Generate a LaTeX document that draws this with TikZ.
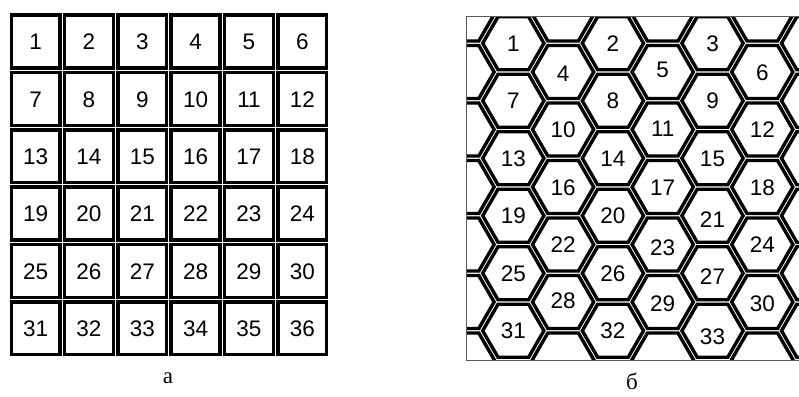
\documentclass[tikz,border=0pt]{standalone}
\usepackage{fontspec}
\setmainfont{Liberation Serif}
\newfontfamily\arialfont{Liberation Sans}
\begin{document}
\begin{tikzpicture}[x=1pt,y=-1pt,
  cellbox/.style={draw=black,line width=3.4pt,line join=miter},
  hexline/.style={draw=black,line width=3.4pt,line join=miter},
  frameline/.style={draw=black!65,line width=1pt},
  num/.style={font=\arialfont\fontsize{22.5}{22.5}\selectfont,inner sep=0pt,
    text height=16.1pt,text depth=0pt},
  caption/.style={font=\fontsize{23}{23}\selectfont,inner sep=0pt}]
\useasboundingbox (0,0) rectangle (799,396);
% ---- panel a: square cells
\foreach \r in {0,...,5}{
  \foreach \c in {0,...,5}{
    \pgfmathsetmacro\xa{9+53.33*\c+2.2}
    \pgfmathsetmacro\xb{9+53.33*(\c+1)-2.2}
    \pgfmathsetmacro\ya{13+57.33*\r+2.2}
    \pgfmathsetmacro\yb{13+57.33*(\r+1)-2.2}
    \pgfmathtruncatemacro\n{6*\r+\c+1}
    \draw[cellbox] (\xa,\ya) rectangle (\xb,\yb);
    \node[num] (sq\n) at ({(\xa+\xb)/2},{(\ya+\yb)/2}) {\n};
  }
}
\node[caption] (capa) at (168,378) {а};
% ---- panel b: hexagonal cells
\begin{scope}
\clip (466,17) rectangle (799,360);
\foreach \c in {-1,...,6}{
  \foreach \r in {-1,...,6}{
    \pgfmathsetmacro\cx{513.3+49.8*\c}
    \pgfmathsetmacro\cy{43.25+57.5*\r+mod(\c+2,2)*28.75}
    \draw[hexline] ({\cx+30.6},\cy) -- ({\cx+15.3},{\cy+26.5}) -- ({\cx-15.3},{\cy+26.5})
      -- ({\cx-30.6},\cy) -- ({\cx-15.3},{\cy-26.5}) -- ({\cx+15.3},{\cy-26.5}) -- cycle;
  }
}
\end{scope}
\draw[frameline] (799,17) -- (466,17) -- (466,360) -- (799,360);
\foreach \n/\c/\r/\dy in {1/0/0/0, 2/2/0/0, 3/4/0/0, 4/1/0/1, 5/3/0/-3, 6/5/0/0,
  7/0/1/0, 8/2/1/0, 9/4/1/0, 10/1/1/0, 11/3/1/-1, 12/5/1/0,
  13/0/2/0, 14/2/2/0, 15/4/2/0, 16/1/2/0, 17/3/2/0, 18/5/2/0,
  19/0/3/0, 20/2/3/0, 21/4/3/4, 22/1/3/0, 23/3/3/3, 24/5/3/0,
  25/0/4/0, 26/2/4/0, 27/4/4/3, 28/1/4/-2, 29/3/4/1, 30/5/4/1,
  31/0/5/0, 32/2/5/0, 33/4/5/6}{
  \pgfmathsetmacro\cx{513.3+49.8*\c}
  \pgfmathsetmacro\cy{43.25+57.5*\r+mod(\c,2)*28.75+\dy}
  \node[num] (hx\n) at (\cx,\cy) {\n};
}
\node[caption] (capb) at (632,381) {б};
\end{tikzpicture}
\end{document}
